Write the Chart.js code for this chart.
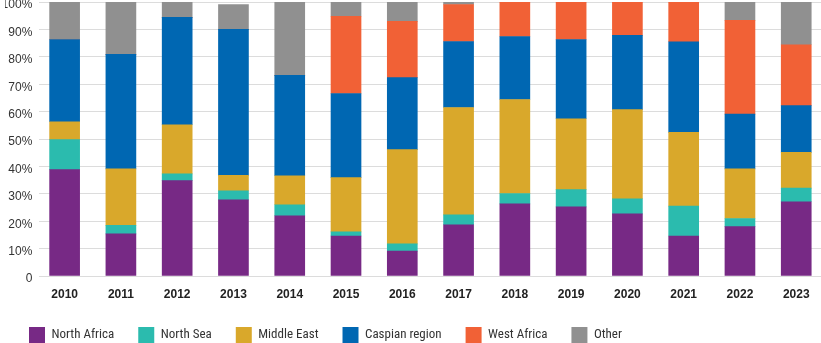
<!DOCTYPE html>
<html>
<head>
<meta charset="utf-8">
<script src="https://cdn.jsdelivr.net/npm/chart.js@4"></script>
<style>
  html, body { margin: 0; padding: 0; background: #fff; }
  #wrap { width: 821px; height: 343px; position: relative; }
</style>
</head>
<body>
<div id="wrap"><canvas id="regionChart"></canvas></div>
<script>
// Share of supply by region, per year (%)
const years = ['2010', '2011', '2012', '2013', '2014', '2015', '2016', '2017', '2018', '2019', '2020', '2021', '2022', '2023'];

const northAfrica = [38.8, 15.4, 34.8, 27.8, 22.0, 14.6, 9.1, 18.7, 26.3, 25.2, 22.7, 14.6, 18.0, 27.1];
const northSea    = [11.0, 3.1, 2.5, 3.3, 4.0, 1.5, 2.6, 3.6, 3.8, 6.3, 5.5, 10.9, 3.0, 5.0];
const middleEast  = [6.5, 20.6, 17.9, 5.6, 10.6, 19.8, 34.4, 39.2, 34.3, 25.9, 32.5, 26.9, 18.1, 13.0];
const caspian     = [30.0, 41.8, 39.2, 53.3, 36.6, 30.7, 26.3, 24.1, 23.0, 28.9, 27.1, 33.1, 20.0, 17.1];
const westAfrica  = [0, 0, 0, 0, 0, 28.2, 20.5, 13.5, 12.6, 13.7, 12.2, 14.5, 34.2, 22.2];
const other       = [13.7, 19.1, 5.6, 9.1, 26.8, 5.2, 7.1, 0.9, 0, 0, 0, 0, 6.7, 15.6];

const yTicks = [0, 10, 20, 30, 40, 50, 60, 70, 80, 90, 100];

const series = [
    { label: 'North Africa', data: northAfrica, color: '#772985' },
    { label: 'North Sea', data: northSea, color: '#2bbbae' },
    { label: 'Middle East', data: middleEast, color: '#d9a82b' },
    { label: 'Caspian region', data: caspian, color: '#0067b2' },
    { label: 'West Africa', data: westAfrica, color: '#f16136' },
    { label: 'Other', data: other, color: '#909090' }
];

function initRegionChart() {
    const ctx = document.getElementById('regionChart');
    if (!ctx) return;

    new Chart(ctx, {
        type: 'bar',
        data: {
            labels: years,
            datasets: series.map(s => ({
                label: s.label,
                data: s.data,
                backgroundColor: s.color,
                borderWidth: 0,
                barThickness: 30
            }))
        },
        options: {
            responsive: true,
            maintainAspectRatio: false,
            animation: false,
            layout: { padding: { left: 5, top: 2, right: 0, bottom: -10 } },
            plugins: {
                tooltip: { enabled: false },
                legend: {
                    position: 'bottom',
                    align: 'start',
                    labels: {
                        boxWidth: 16,
                        boxHeight: 16,
                        padding: 24,
                        color: '#333',
                        font: { family: "'Roboto Condensed', 'Liberation Sans', sans-serif", size: 13 }
                    }
                }
            },
            scales: {
                x: {
                    type: 'linear',
                    stacked: true,
                    offset: false,
                    min: +years[0] - 0.45,
                    max: +years[years.length - 1] + 0.44,
                    grid: { display: false },
                    border: { display: false },
                    ticks: {
                        stepSize: 1,
                        includeBounds: false,
                        padding: 3,
                        color: '#222',
                        font: { family: "'Liberation Sans', Arial, sans-serif", size: 12, weight: 'bold' },
                        callback: v => String(v)
                    },
                    afterFit: s => { s.height = 27; s.paddingLeft = 0; s.paddingRight = 0; }
                },
                y: {
                    stacked: true,
                    min: 0,
                    max: 100,
                    afterBuildTicks: s => { s.ticks = yTicks.map(v => ({ value: v })); },
                    grid: { color: '#dcdcdc', lineWidth: 1, drawTicks: false },
                    border: { display: false },
                    ticks: {
                        padding: 7,
                        labelOffset: 3,
                        color: '#333',
                        font: { family: "'Liberation Sans', Arial, sans-serif", size: 12 },
                        callback: v => v === 0 ? '0' : v + '%'
                    },
                    afterFit: s => { s.width = 34.3; s.paddingTop = 0; s.paddingBottom = 0; }
                }
            }
        }
    });
}

document.addEventListener('DOMContentLoaded', () => {
    initRegionChart();
});
</script>
</body>
</html>
